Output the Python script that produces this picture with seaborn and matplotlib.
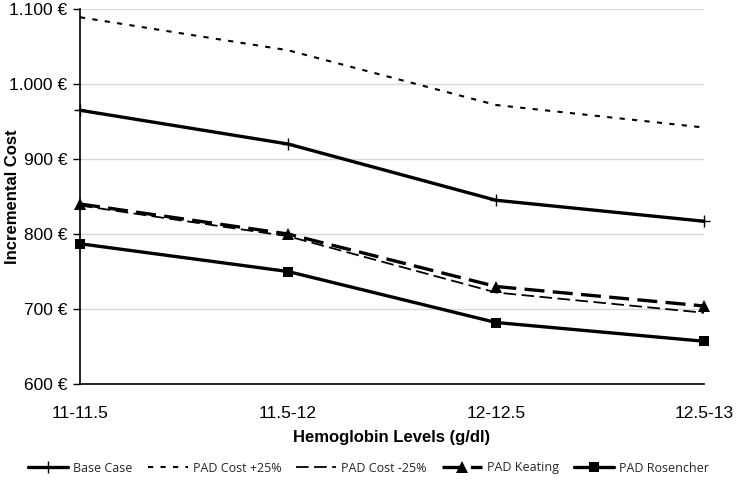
import matplotlib
matplotlib.use("Agg")
import matplotlib.pyplot as plt
import seaborn as sns
import pandas as pd
from matplotlib.ticker import FuncFormatter

categories = ["11-11.5", "11.5-12", "12-12.5", "12.5-13"]
base_case = [965, 920, 845, 817]
pad_cost_plus25 = [1089, 1045, 972, 942]
pad_cost_minus25 = [838, 797, 722, 695]
pad_keating = [840, 800, 730, 704]
pad_rosencher = [787, 750, 682, 657]

series_names = ["Base Case", "PAD Cost +25%", "PAD Cost -25%", "PAD Keating", "PAD Rosencher"]
series_values = [base_case, pad_cost_plus25, pad_cost_minus25, pad_keating, pad_rosencher]

sns.set_theme(style="white")
plt.rcParams['font.family'] = ['Liberation Sans', 'DejaVu Sans']

fig = plt.figure(figsize=(7.37, 4.84), dpi=100)
ax = fig.add_axes([80/737, 1 - 384/484, (704-80)/737, (384-9)/484])

styles = {
    "Base Case": dict(lw=2.4, ls="-", marker="+", ms=9, mew=1.0),
    "PAD Cost +25%": dict(lw=1.5, ls=(0, (2.5, 3.5)), marker=None),
    "PAD Cost -25%": dict(lw=1.3, ls=(0, (7, 3, 7, 3)), marker=None),
    "PAD Keating": dict(lw=2.4, ls=(0, (6, 2.5)), marker="^", ms=8, mew=0),
    "PAD Rosencher": dict(lw=2.4, ls="-", marker="s", ms=7.5, mew=0),
}

x_idx = list(range(len(categories)))
for name, vals in zip(series_names, series_values):
    df = pd.DataFrame({"x": x_idx, "y": vals})
    st = styles[name]
    sns.lineplot(data=df, x="x", y="y", ax=ax, color="black", linewidth=st["lw"],
                 linestyle=st["ls"], marker=st["marker"],
                 markersize=st.get("ms", 0), markeredgewidth=st.get("mew", 0),
                 markeredgecolor="black", markerfacecolor="black",
                 label=name, clip_on=False, zorder=3)

ax.set_xlim(0, 3)
ax.set_ylim(600, 1100)
ax.set_xticks(x_idx)
ax.set_xticklabels(categories)
ax.set_yticks([600, 700, 800, 900, 1000, 1100])

def eur(v, pos):
    s = f"{int(v):,}".replace(",", ".")
    return f"{s} €"
ax.yaxis.set_major_formatter(FuncFormatter(eur))

ax.grid(axis="y", color="#d9d9d9", linewidth=1.0)
ax.grid(axis="x", visible=False)
for side in ["top", "right"]:
    ax.spines[side].set_visible(False)
for side in ["left", "bottom"]:
    ax.spines[side].set_color("black")
    ax.spines[side].set_linewidth(1.2)

ax.tick_params(axis="y", which="major", left=True, length=5, width=1, color="black",
               labelsize=12.5, pad=4)
ax.tick_params(axis="x", which="major", bottom=False, labelsize=12.5, pad=10)
for lbl in ax.get_xticklabels() + ax.get_yticklabels():
    lbl.set_color("black")

ax.set_xlabel("Hemoglobin Levels (g/dl)", fontsize=12, fontweight="bold", labelpad=6, color="black")
ax.set_ylabel("Incremental Cost", fontsize=12, fontweight="bold", color="black")
ax.yaxis.set_label_coords(-(80 - 20) / 624, 0.5)

handles, labels = ax.get_legend_handles_labels()
leg = fig.legend(handles, labels, loc="center", bbox_to_anchor=(0.5, 1 - 468/484), ncol=5,
                 frameon=False, fontsize=9, handlelength=3.2, columnspacing=1.2,
                 handletextpad=0.4)
for t in leg.get_texts():
    t.set_family(["Open Sans", "DejaVu Sans"])
if ax.get_legend():
    ax.get_legend().remove()

fig.savefig("out.png", dpi=100)
